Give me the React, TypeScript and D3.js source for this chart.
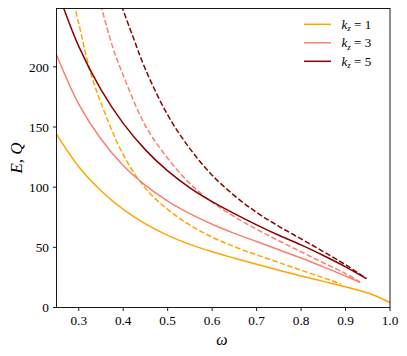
import * as d3 from "d3";

// --- chart data ---
// k_z = 1
const e1Omega = [0.25, 0.3, 0.35, 0.4, 0.45, 0.5, 0.55, 0.6, 0.65, 0.7, 0.75, 0.8, 0.85, 0.9, 0.95, 0.975, 1.0];
const e1Values = [144, 117, 97, 81.5, 69.5, 60, 52.5, 46.3, 41, 36, 31, 26.2, 21.7, 17.2, 12, 8.5, 4];
const q1Omega = [0.285, 0.3, 0.326, 0.35, 0.4, 0.45, 0.5, 0.55, 0.6, 0.65, 0.7, 0.75, 0.8, 0.85, 0.89];
const q1Values = [259, 236, 196, 170, 127, 99, 81.5, 68.5, 58.5, 50.5, 43.8, 37.4, 31, 24.8, 19.5];
// k_z = 3
const e3Omega = [0.25, 0.3, 0.35, 0.4, 0.45, 0.5, 0.55, 0.6, 0.65, 0.7, 0.75, 0.8, 0.85, 0.9, 0.933];
const e3Values = [210, 169, 140, 118, 101.5, 88.5, 78, 69.2, 61.6, 54.8, 48, 41.2, 33.8, 26.2, 20.8];
const q3Omega = [0.345, 0.375, 0.4, 0.45, 0.5, 0.55, 0.6, 0.65, 0.7, 0.75, 0.8, 0.85, 0.9, 0.933];
const q3Values = [258, 218, 193, 151, 124, 103, 87.5, 75.5, 65, 55.5, 46.3, 37.2, 28.2, 21];
// k_z = 5
const e5Omega = [0.26, 0.3, 0.35, 0.4, 0.45, 0.5, 0.55, 0.6, 0.65, 0.7, 0.75, 0.8, 0.85, 0.9, 0.947];
const e5Values = [255, 217, 181, 153, 131, 113.5, 99.5, 88, 78, 68.7, 60, 52, 43.2, 33.8, 24];
const q5Omega = [0.39, 0.42, 0.45, 0.5, 0.55, 0.6, 0.65, 0.7, 0.75, 0.8, 0.85, 0.9, 0.947];
const q5Values = [257, 227, 198, 160, 132, 110, 93, 79, 67.5, 57, 46.5, 35.5, 24];

const kzLabels = ["1", "3", "5"];
const colors = ["#ffa500", "#fa8072", "#8b0000"];
const xTicks = [0.3, 0.4, 0.5, 0.6, 0.7, 0.8, 0.9, 1.0];
const yTicks = [0, 50, 100, 150, 200];

const W = 407;
const H = 356;
const left = 56.5;
const right = 390;
const top = 8.5;
const bottom = 307.5;
const font = "Liberation Serif";

const series = [
  { omega: e1Omega, values: e1Values, k: 0, dashed: false },
  { omega: q1Omega, values: q1Values, k: 0, dashed: true },
  { omega: e3Omega, values: e3Values, k: 1, dashed: false },
  { omega: q3Omega, values: q3Values, k: 1, dashed: true },
  { omega: e5Omega, values: e5Values, k: 2, dashed: false },
  { omega: q5Omega, values: q5Values, k: 2, dashed: true },
];

export default function App() {
  const x = d3.scaleLinear().domain([0.25, 1.0]).range([left, right]);
  const y = d3.scaleLinear().domain([0, 248.5]).range([bottom, top]);

  const line = d3
    .line<[number, number]>()
    .x((d) => x(d[0]))
    .y((d) => y(d[1]))
    .curve(d3.curveCatmullRom.alpha(0.5));

  const txt = { fontFamily: font, fill: "#000" };

  return (
    <svg
      width={W}
      height={H}
      style={{ position: "absolute", left: 0, top: 0, background: "#fff" }}
    >
      <defs>
        <clipPath id="plot">
          <rect x={left} y={top} width={right - left} height={bottom - top} />
        </clipPath>
      </defs>

      <g clipPath="url(#plot)" fill="none" strokeWidth={1.5}>
        {series.map((s, i) => (
          <path
            key={i}
            d={line(s.omega.map((o, j) => [o, s.values[j]] as [number, number])) || ""}
            stroke={colors[s.k]}
            strokeDasharray={s.dashed ? "5.5,2.4" : undefined}
          />
        ))}
      </g>

      {/* spines */}
      <rect
        x={left}
        y={top}
        width={right - left}
        height={bottom - top}
        fill="none"
        stroke="#000"
        strokeWidth={0.9}
      />

      {/* x axis */}
      {xTicks.map((t) => (
        <g key={t} transform={`translate(${x(t)},${bottom})`}>
          <line y2={3.5} stroke="#000" strokeWidth={0.9} />
          <text y={17.5} textAnchor="middle" fontSize={13.3} style={txt}>
            {t.toFixed(1)}
          </text>
        </g>
      ))}
      {/* y axis */}
      {yTicks.map((t) => (
        <g key={t} transform={`translate(${left},${y(t)})`}>
          <line x2={-3.5} stroke="#000" strokeWidth={0.9} />
          <text x={-7.5} dy="0.35em" textAnchor="end" fontSize={13.3} style={txt}>
            {t}
          </text>
        </g>
      ))}

      <text x={222} y={345} textAnchor="middle" fontSize={16} fontStyle="italic" style={txt}>
        ω
      </text>
      <text
        transform={`translate(22,${(top + bottom) / 2}) rotate(-90)`}
        textAnchor="middle"
        fontSize={17}
        style={txt}
      >
        <tspan fontStyle="italic">E</tspan>
        <tspan>, </tspan>
        <tspan fontStyle="italic">Q</tspan>
      </text>

      {/* legend */}
      {kzLabels.map((k, i) => {
        const ly = 24.3 + i * 18.5;
        return (
          <g key={k}>
            <line x1={304} x2={331} y1={ly} y2={ly} stroke={colors[i]} strokeWidth={1.5} />
            <text x={341.5} y={ly + 4.5} fontSize={13} style={txt}>
              <tspan fontStyle="italic">k</tspan>
              <tspan fontStyle="italic" fontSize={9} dy={2.5}>z</tspan>
              <tspan dy={-2.5}> = {k}</tspan>
            </text>
          </g>
        );
      })}
    </svg>
  );
}
